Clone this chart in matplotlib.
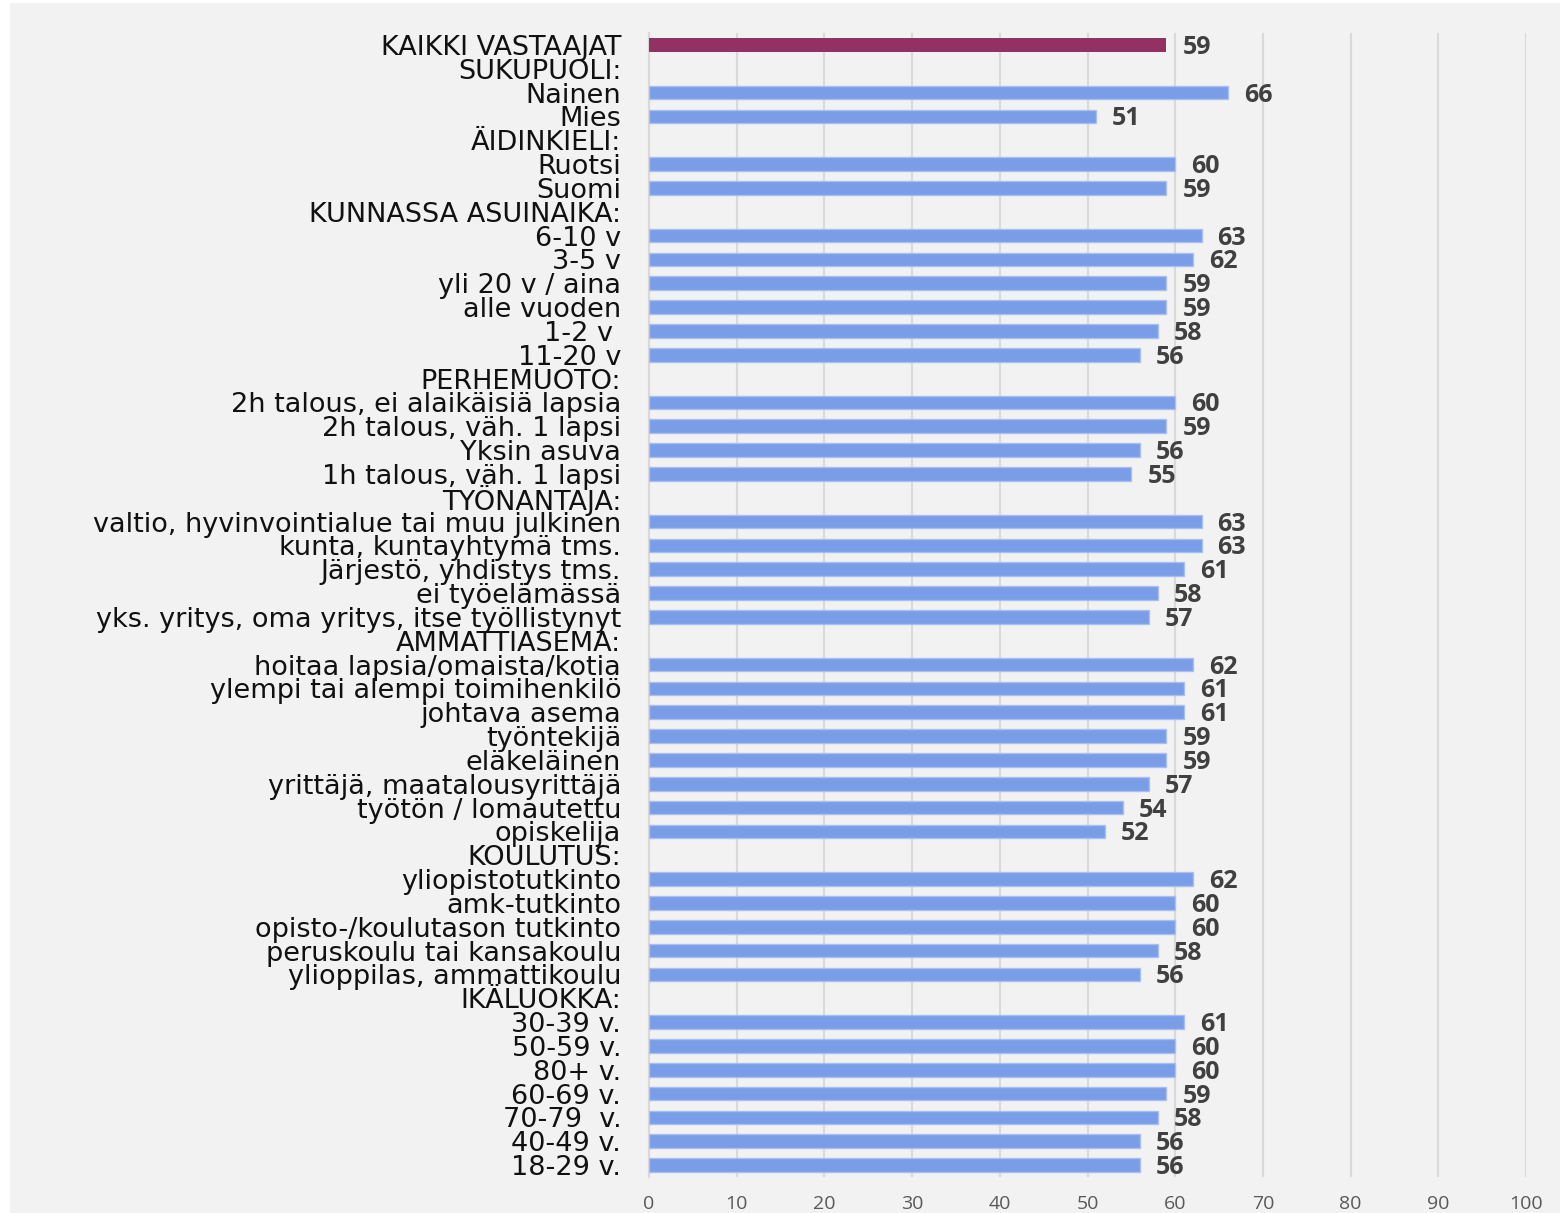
import matplotlib
matplotlib.use("Agg")
import matplotlib.pyplot as plt
from matplotlib.patches import Rectangle

categories = [
    "KAIKKI VASTAAJAT", "SUKUPUOLI:", "Nainen", "Mies", "ÄIDINKIELI:", "Ruotsi", "Suomi",
    "KUNNASSA ASUINAIKA:", "6-10 v", "3-5 v", "yli 20 v / aina", "alle vuoden", "1-2 v ", "11-20 v",
    "PERHEMUOTO:", "2h talous, ei alaikäisiä lapsia", "2h talous, väh. 1 lapsi", "Yksin asuva",
    "1h talous, väh. 1 lapsi", "TYÖNANTAJA:", "valtio, hyvinvointialue tai muu julkinen",
    "kunta, kuntayhtymä tms.", "Järjestö, yhdistys tms.", "ei työelämässä",
    "yks. yritys, oma yritys, itse työllistynyt", "AMMATTIASEMA:", "hoitaa lapsia/omaista/kotia",
    "ylempi tai alempi toimihenkilö", "johtava asema", "työntekijä", "eläkeläinen",
    "yrittäjä, maatalousyrittäjä", "työtön / lomautettu", "opiskelija", "KOULUTUS:",
    "yliopistotutkinto", "amk-tutkinto", "opisto-/koulutason tutkinto", "peruskoulu tai kansakoulu",
    "ylioppilas, ammattikoulu", "IKÄLUOKKA:", "30-39 v.", "50-59 v.", "80+ v.", "60-69 v.",
    "70-79  v.", "40-49 v.", "18-29 v.",
]
values = [
    59, None, 66, 51, None, 60, 59,
    None, 63, 62, 59, 59, 58, 56,
    None, 60, 59, 56, 55,
    None, 63, 63, 61, 58, 57,
    None, 62, 61, 61, 59, 59, 57, 54, 52,
    None, 62, 60, 60, 58, 56,
    None, 61, 60, 60, 59, 58, 56, 56,
]
x_ticks = [0, 10, 20, 30, 40, 50, 60, 70, 80, 90, 100]

LABEL_FONT = ["DejaVu Sans"]
FONT = ["Open Sans", "DejaVu Sans"]

fig = plt.figure(figsize=(15.6, 12.13), dpi=100, facecolor="white")
fig.patches.append(Rectangle((10 / 1560, 0), 1 - 10 / 1560, 1 - 3 / 1213,
                             transform=fig.transFigure, facecolor="#f2f2f2",
                             edgecolor="none", zorder=-10))

ax = fig.add_axes([649 / 1560, 1 - 1177 / 1213, (1526 - 649) / 1560, (1177 - 33) / 1213])
ax.set_facecolor("none")
ax.set_zorder(5)

ypos = list(range(len(categories)))
for i, v in enumerate(values):
    if v is None:
        continue
    if i == 0:
        ax.barh(i, v, height=0.58, color="#933262", edgecolor="none", zorder=3)
    else:
        ax.barh(i, v, height=0.58, color="#7a9de8", edgecolor="#a9bff2", linewidth=1.0, zorder=3)
    ax.annotate(f"{v}", xy=(v, i), xytext=(11.5, -6.5), textcoords="offset points",
                ha="left", va="baseline", fontsize=18, fontweight="bold",
                color="#404040", family=FONT, zorder=4)

ax.set_ylim(len(categories) - 0.5, -0.5)
ax.set_xlim(0, 100)
ax.set_yticks(ypos)
ax.set_yticklabels(categories, family=LABEL_FONT, fontsize=19.5, color="#111111")
ax.set_xticks(x_ticks)
ax.set_xticklabels([str(t) for t in x_ticks], family=FONT, fontsize=14, color="#595959")
ax.tick_params(axis="y", length=0, pad=20)
ax.tick_params(axis="x", length=0, pad=13)

ax.grid(axis="x", color="#d9d9d9", linewidth=1.5, zorder=1)
ax.set_axisbelow(True)
for s in ["top", "right", "bottom"]:
    ax.spines[s].set_visible(False)
ax.spines["left"].set_color("#d9d9d9")
ax.spines["left"].set_linewidth(1.5)

fig.savefig("out.png", dpi=100, facecolor="white")
